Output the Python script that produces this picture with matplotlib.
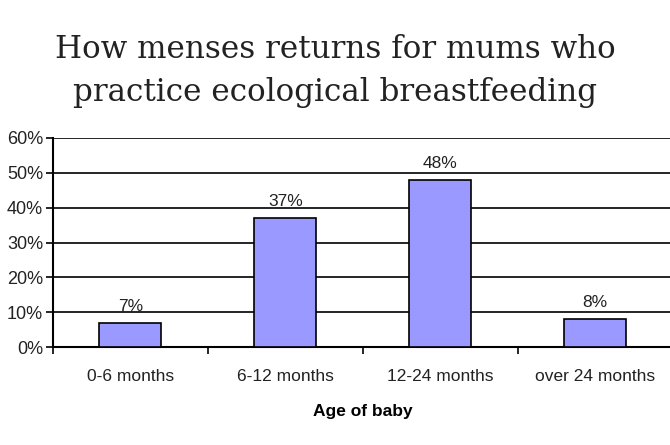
import matplotlib
matplotlib.use("Agg")
import matplotlib.pyplot as plt
import numpy as np

categories = ["0-6 months", "6-12 months", "12-24 months", "over 24 months"]
values = [7, 37, 48, 8]
y_ticks = [0, 10, 20, 30, 40, 50, 60]

plt.rcParams['font.family'] = ['Liberation Sans', 'DejaVu Sans']

fig = plt.figure(figsize=(6.7, 4.45), dpi=100)
ax = fig.add_axes([0.079, 0.220, 0.925, 0.470])

x = np.arange(len(categories))
ax.bar(x, values, width=0.4, color='#9999FF', edgecolor='black', linewidth=1.2, zorder=3)

for xi, v in zip(x, values):
    ax.text(xi, v + 2.5, f"{v}%", ha='center', va='bottom', fontsize=12.5, color='#222222')

ax.set_xlim(-0.5, len(categories) - 0.5)
ax.set_ylim(0, 60)
ax.set_yticks(y_ticks)
ax.set_yticklabels([f"{t}%" for t in y_ticks], fontsize=13, color='#222222')
ax.set_xticks(x)
ax.set_xticklabels(categories, fontsize=12.5, color='#222222')
ax.tick_params(axis='x', length=0, pad=16)
ax.set_xticks(np.arange(-0.5, len(categories), 1), minor=True)
ax.tick_params(axis='x', which='minor', length=5, width=1.2)
ax.tick_params(axis='y', length=5, width=1.2, direction='out', pad=2)

ax.yaxis.grid(True, color='black', linewidth=1.2, zorder=0)
ax.set_axisbelow(True)
for s in ['top', 'right']:
    ax.spines[s].set_visible(False)
ax.spines['left'].set_linewidth(1.5)
ax.spines['bottom'].set_linewidth(1.5)

ax.set_xlabel("Age of baby", fontsize=12.5, fontweight='bold', labelpad=14)

fig.text(0.50, 0.840, "How menses returns for mums who\npractice ecological breastfeeding",
         ha='center', va='center', fontsize=22.3, family='DejaVu Serif',
         color='#222222', linespacing=1.5)

plt.savefig("out.png", dpi=100)
plt.close()
